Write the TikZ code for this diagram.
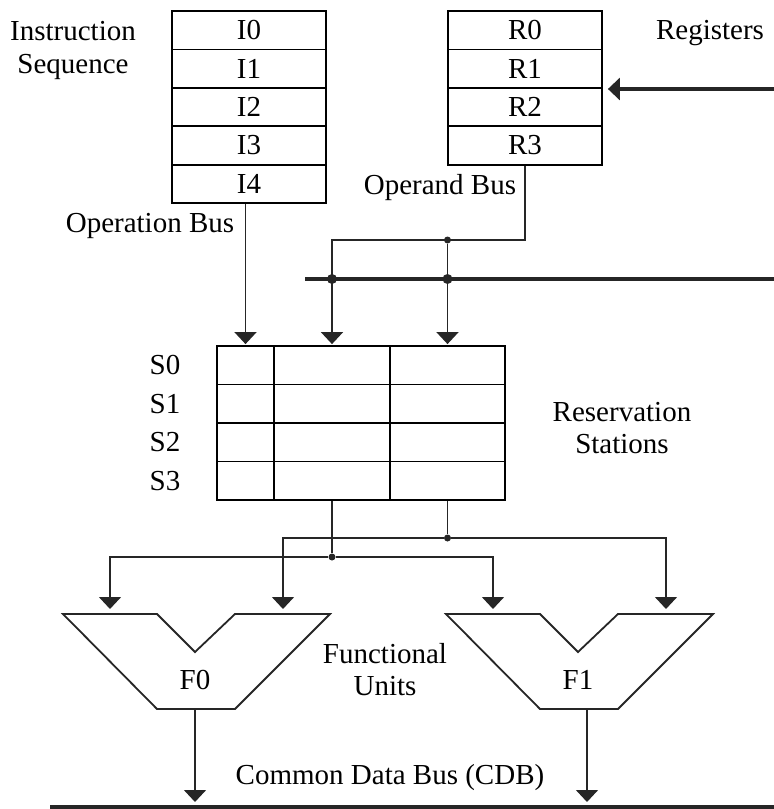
\documentclass[tikz,border=0pt]{standalone}
\usepackage{fontspec}
\setmainfont{Liberation Serif}
\usetikzlibrary{arrows.meta}
\tikzset{
  txt/.style={inner sep=0pt, align=center, font=\fontsize{29}{32}\selectfont},
  cell/.style={txt, draw, line width=1.8pt, minimum width=154pt, minimum height=38.4pt},
  rscell/.style={draw, line width=1.8pt, minimum height=38.5pt, inner sep=0pt},
  wire/.style={line width=1.6pt, draw=black!85},
  bus/.style={line width=3.4pt, draw=black!85},
  tip/.style={-{Triangle[width=22pt,length=12pt]}},
  dot/.style={circle, fill=black!85, inner sep=0pt, minimum size=7pt},
  bigdot/.style={circle, fill=black!85, inner sep=0pt, minimum size=10pt}
}
\begin{document}
\begin{tikzpicture}[x=1pt,y=-1pt]
\useasboundingbox (0,0) rectangle (774,809);
% instruction sequence and registers
\foreach \k in {0,...,4}
  \node[cell] (i\k) at (249,{30.2+38.4*\k}) {I\k};
\foreach \k in {0,...,3}
  \node[cell] (r\k) at (525,{30.2+38.4*\k}) {R\k};
\node[txt] (iseq) at (73,50) {Instruction\\[1pt]Sequence};
\node[txt] (regs) at (710,33) {Registers};
\node[txt] (opbus) at (150,226) {Operation Bus};
\node[txt] (obus) at (440,188) {Operand Bus};
% reservation stations
\foreach \k in {0,...,3} {
  \node[rscell, minimum width=57pt] (s\k a) at (245.5,{365.25+38.5*\k}) {};
  \node[rscell, minimum width=116pt] (s\k b) at (332,{365.25+38.5*\k}) {};
  \node[rscell, minimum width=115pt] (s\k c) at (447.5,{365.25+38.5*\k}) {};
  \node[txt] (sl\k) at (165,{365.25+38.5*\k}) {S\k};
}
\node[txt] (rstat) at (622,428) {Reservation\\Stations};
% functional units
\foreach \u/\dx in {0/0,1/383} {
  \begin{scope}[xshift=\dx pt]
    \draw[line width=1.8pt, draw=black!85] (63,614) -- (157,614) -- (195,652) -- (235,614)
      -- (330,614) -- (235,709) -- (157,709) -- cycle;
    \node[txt] (f\u) at (195,680) {F\u};
    \coordinate (f\u a) at (110,614);
    \coordinate (f\u b) at (283,614);
  \end{scope}
}
\coordinate (f0o) at (195,709);
\coordinate (f1o) at (587,709);
\node[txt] (funits) at (385,670) {Functional\\Units};
\node[txt] (cdb) at (390,778) {Common Data Bus (CDB)};
% buses and junctions
\coordinate (rin) at (774,89);
\coordinate (bl) at (305,279);
\coordinate (br) at (774,279);
\coordinate (cdbl) at (50,807);
\coordinate (cdbr) at (774,807);
\coordinate (ob) at (332,240);
\node[dot] (j1) at (447.5,240) {};
\node[bigdot] (j2) at (332,279) {};
\node[bigdot] (j3) at (447.5,279) {};
\node[dot] (k1) at (332,557) {};
\node[dot] (k2) at (447.5,538) {};
\draw[bus, tip, shorten >=5pt] (rin) -- (rin -| r1.east);
\draw[bus] (bl) -- (br);
\draw[bus] (cdbl) -- (cdbr);
\draw[wire, tip, shorten >=1pt] (s0a.north |- i4.south) -- (s0a.north);
\draw[wire, tip, shorten >=1pt] (r3.south) |- (ob) -- (s0b.north);
\draw[wire, tip, shorten >=1pt] (j1) -- (s0c.north);
\draw[wire] (s3b.south) -- (k1);
\draw[wire] (s3c.south) -- (k2);
\draw[wire, tip, shorten >=5pt] (k1) -| (f0a);
\draw[wire, tip, shorten >=5pt] (k1) -| (f1a);
\draw[wire, tip, shorten >=5pt] (k2) -| (f0b);
\draw[wire, tip, shorten >=5pt] (k2) -| (f1b);
\draw[wire, tip, shorten >=5pt] (f0o) -- (f0o |- cdbl);
\draw[wire, tip, shorten >=5pt] (f1o) -- (f1o |- cdbl);
\end{tikzpicture}
\end{document}
